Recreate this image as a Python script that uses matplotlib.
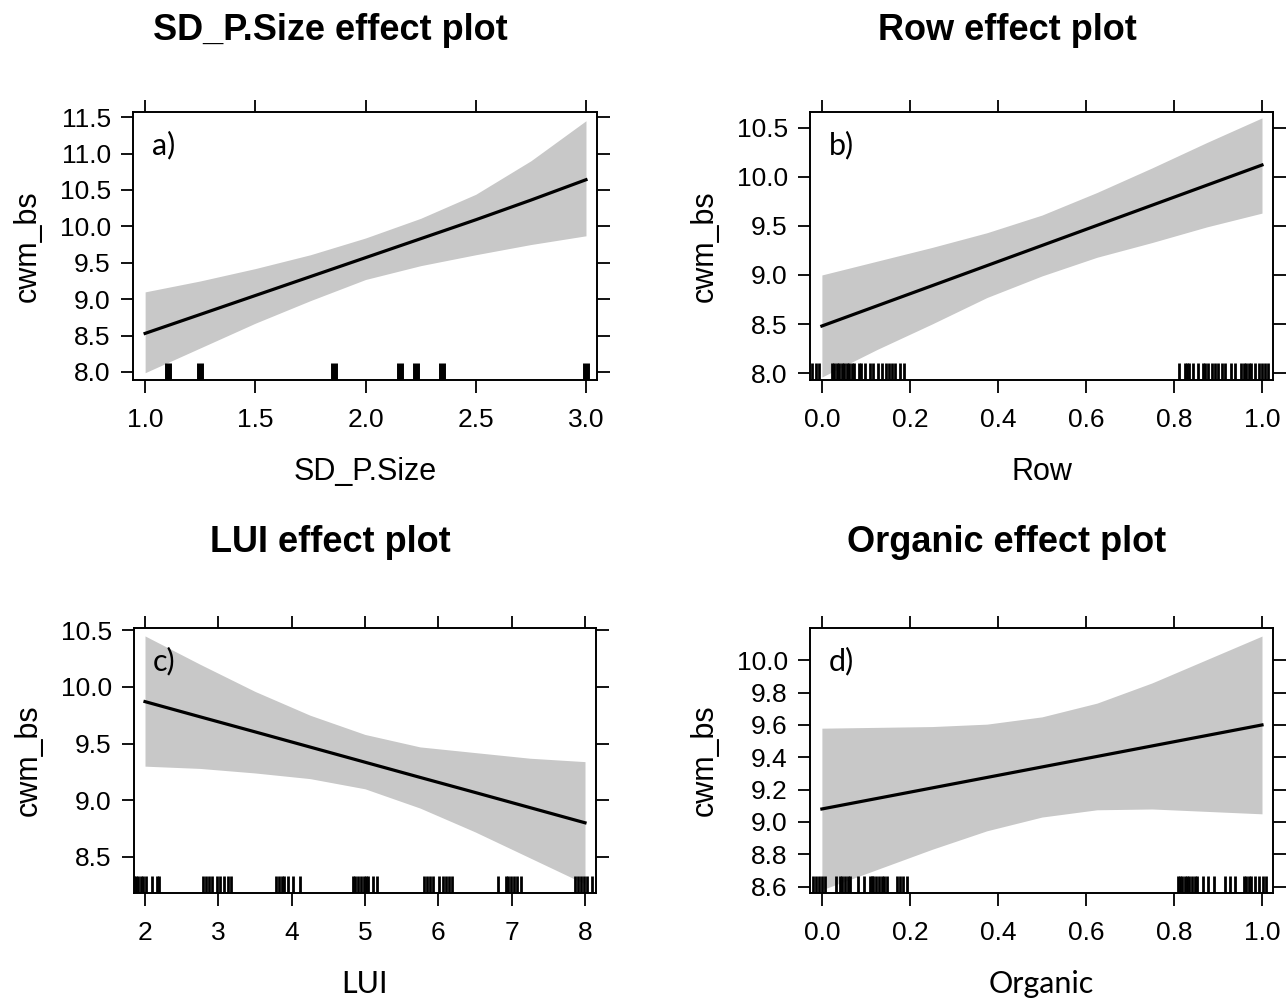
import numpy as np
import matplotlib
matplotlib.use("Agg")
import matplotlib.pyplot as plt

plt.rcParams['font.family'] = ['Liberation Sans', 'DejaVu Sans']

# ---- data ----
# a) SD_P.Size
sd_x = [1.0, 1.25, 1.5, 1.75, 2.0, 2.25, 2.5, 2.75, 3.0]
sd_fit = [8.53, 8.79, 9.05, 9.31, 9.57, 9.83, 10.09, 10.36, 10.64]
sd_hi = [9.10, 9.25, 9.42, 9.61, 9.84, 10.11, 10.44, 10.90, 11.45]
sd_lo = [7.99, 8.33, 8.67, 8.98, 9.27, 9.46, 9.61, 9.75, 9.87]
sd_rug = [1.105, 1.25, 1.855, 2.155, 2.23, 2.345, 3.0]

# b) Row
row_x = [0.0, 0.125, 0.25, 0.375, 0.5, 0.625, 0.75, 0.875, 1.0]
row_fit = [8.48, 8.685, 8.89, 9.095, 9.30, 9.505, 9.71, 9.915, 10.12]
row_hi = [9.00, 9.14, 9.28, 9.43, 9.61, 9.84, 10.09, 10.35, 10.60]
row_lo = [7.96, 8.24, 8.50, 8.77, 8.99, 9.18, 9.33, 9.49, 9.63]
row_rug = [-0.022, -0.014, -0.007, 0.022, 0.028, 0.034, 0.040, 0.045,
           0.050, 0.056, 0.062, 0.068, 0.074, 0.085, 0.088, 0.098, 0.109,
           0.117, 0.127, 0.136, 0.145, 0.152, 0.160, 0.167, 0.177, 0.187,
           0.811, 0.824, 0.829, 0.834, 0.844, 0.854, 0.865, 0.870, 0.878,
           0.886, 0.893, 0.901, 0.910, 0.917, 0.930, 0.939, 0.952, 0.958,
           0.964, 0.970, 0.975, 0.984, 0.993, 1.000, 1.007, 1.014]

# c) LUI
lui_x = [2, 2.75, 3.5, 4.25, 5, 5.75, 6.5, 7.25, 8]
lui_fit = [9.87, 9.736, 9.603, 9.469, 9.335, 9.201, 9.068, 8.934, 8.80]
lui_hi = [10.45, 10.20, 9.96, 9.75, 9.58, 9.47, 9.42, 9.37, 9.34]
lui_lo = [9.30, 9.28, 9.24, 9.19, 9.10, 8.93, 8.72, 8.49, 8.26]
lui_rug = [1.85, 1.88, 1.91, 1.94, 1.97, 2.02, 2.09, 2.16, 2.19,
           2.79, 2.83, 2.87, 2.91, 2.98, 3.02, 3.08, 3.13, 3.17,
           3.79, 3.83, 3.87, 3.90, 3.95, 4.02, 4.11,
           4.83, 4.87, 4.91, 4.95, 4.99, 5.02, 5.04, 5.11, 5.17,
           5.81, 5.85, 5.89, 5.93, 6.01, 6.06, 6.10, 6.14, 6.18,
           6.81, 6.92, 6.95, 6.99, 7.03, 7.07, 7.13,
           7.87, 7.91, 7.95, 7.99, 8.03, 8.10]

# d) Organic
org_x = [0.0, 0.125, 0.25, 0.375, 0.5, 0.625, 0.75, 0.875, 1.0]
org_fit = [9.08, 9.145, 9.21, 9.275, 9.34, 9.405, 9.47, 9.535, 9.60]
org_hi = [9.58, 9.585, 9.59, 9.605, 9.65, 9.735, 9.86, 10.005, 10.15]
org_lo = [8.58, 8.705, 8.83, 8.945, 9.03, 9.075, 9.08, 9.065, 9.05]
org_rug = [-0.020, -0.013, -0.006, 0.0, 0.007, 0.033, 0.041, 0.046, 0.052,
           0.060, 0.064, 0.083, 0.096, 0.109, 0.113, 0.117, 0.123, 0.130,
           0.136, 0.142, 0.148, 0.170, 0.177, 0.185, 0.193,
           0.810, 0.814, 0.819, 0.824, 0.829, 0.835, 0.841, 0.847, 0.852,
           0.867, 0.877, 0.892, 0.916, 0.927, 0.939, 0.958, 0.964, 0.970,
           0.976, 0.984, 0.993, 1.003, 1.010]

panels = [
    dict(title="SD_P.Size effect plot", xlabel="SD_P.Size", tag="a)",
         x=sd_x, fit=sd_fit, lo=sd_lo, hi=sd_hi, rug=sd_rug, rug_lw=5,
         xticks=[1.0, 1.5, 2.0, 2.5, 3.0], xfmt="%.1f", xlim=(0.945, 3.05),
         yticks=[8.0, 8.5, 9.0, 9.5, 10.0, 10.5, 11.0, 11.5], yfmt="%.1f",
         ylim=(7.89, 11.57), pos=(133, 112, 597, 380), tpos=(330, 30),
         lfont='Liberation Sans'),
    dict(title="Row effect plot", xlabel="Row", tag="b)",
         x=row_x, fit=row_fit, lo=row_lo, hi=row_hi, rug=row_rug, rug_lw=2,
         xticks=[0.0, 0.2, 0.4, 0.6, 0.8, 1.0], xfmt="%.1f", xlim=(-0.027, 1.025),
         yticks=[8.0, 8.5, 9.0, 9.5, 10.0, 10.5], yfmt="%.1f",
         ylim=(7.93, 10.66), pos=(810, 112, 1273, 380), tpos=(1007, 30),
         lfont='Liberation Sans'),
    dict(title="LUI effect plot", xlabel="LUI", tag="c)",
         x=lui_x, fit=lui_fit, lo=lui_lo, hi=lui_hi, rug=lui_rug, rug_lw=2,
         xticks=[2, 3, 4, 5, 6, 7, 8], xfmt="%d", xlim=(1.85, 8.15),
         yticks=[8.5, 9.0, 9.5, 10.0, 10.5], yfmt="%.1f",
         ylim=(8.18, 10.52), pos=(134, 628, 596, 893), tpos=(330, 542),
         lfont='Lato'),
    dict(title="Organic effect plot", xlabel="Organic", tag="d)",
         x=org_x, fit=org_fit, lo=org_lo, hi=org_hi, rug=org_rug, rug_lw=2,
         xticks=[0.0, 0.2, 0.4, 0.6, 0.8, 1.0], xfmt="%.1f", xlim=(-0.027, 1.025),
         yticks=[8.6, 8.8, 9.0, 9.2, 9.4, 9.6, 9.8, 10.0], yfmt="%.1f",
         ylim=(8.56, 10.2), pos=(810, 628, 1273, 893), tpos=(1007, 542),
         lfont='Lato'),
]

W, H = 1287, 1000
fig = plt.figure(figsize=(W / 100, H / 100), dpi=100)

for p in panels:
    l, t, r, b = p["pos"]
    ax = fig.add_axes([l / W, 1 - b / H, (r - l) / W, (b - t) / H])
    ax.fill_between(p["x"], p["lo"], p["hi"], color="#c8c8c8", lw=0)
    ax.plot(p["x"], p["fit"], color="black", lw=2.3)
    ax.vlines(p["rug"], 0, 0.065, transform=ax.get_xaxis_transform(),
              color="black", lw=p["rug_lw"])
    ax.set_xlim(*p["xlim"])
    ax.set_ylim(*p["ylim"])
    ax.set_xticks(p["xticks"])
    ax.set_xticklabels([p["xfmt"] % v for v in p["xticks"]])
    ax.set_yticks(p["yticks"])
    ax.set_yticklabels([p["yfmt"] % v for v in p["yticks"]])
    ax.tick_params(direction="out", length=9, width=1.3, labelsize=19, pad=7,
                   top=True, right=True, labeltop=False, labelright=False)
    ax.tick_params(axis="x", pad=11)
    for s in ax.spines.values():
        s.set_linewidth(1.4)
    ax.set_xlabel(p["xlabel"], fontsize=22, labelpad=18, family=p["lfont"])
    ax.set_ylabel("cwm_bs", fontsize=22, labelpad=12)
    ax.text(0.04, 0.93, p["tag"], transform=ax.transAxes, fontsize=22,
            va="top", ha="left", family="Lato")
    tx, ty = p["tpos"]
    fig.text(tx / W, 1 - ty / H, p["title"], fontsize=26,
             fontweight="bold", ha="center", va="center")

fig.savefig("out.png", dpi=100)
